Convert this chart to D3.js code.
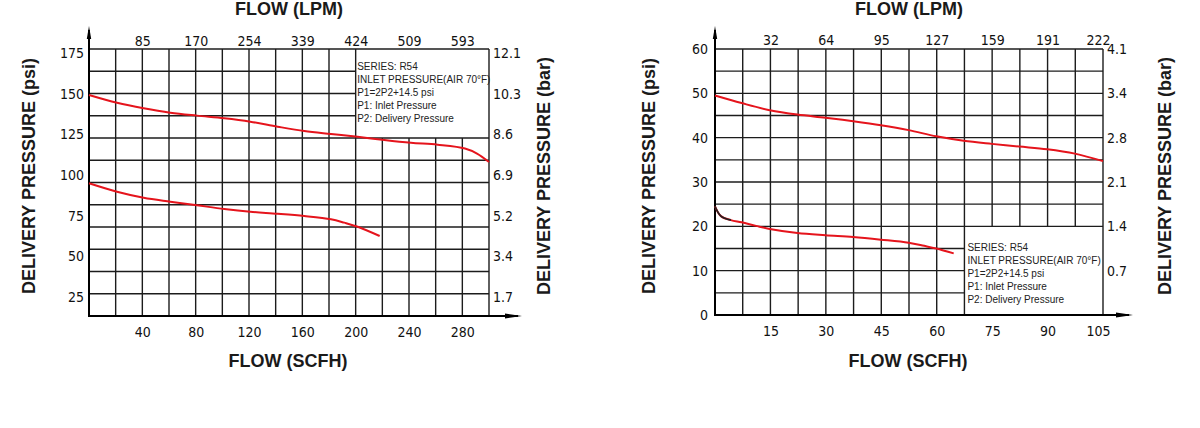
<!DOCTYPE html>
<html>
<head>
<meta charset="utf-8">
<script src="https://cdn.jsdelivr.net/npm/d3@7"></script>
<style>
  html, body { margin: 0; padding: 0; background: #fff; }
  svg { display: block; }
</style>
</head>
<body>
<div id="chart"></div>
<script>
// ---- left chart: flow 0-300 SCFH, delivery pressure 25-175 psi ----
const leftUpperFlow = [0, 21, 41, 61, 81, 101.5, 121, 141.5, 161.5, 181.5, 201.5, 221.5, 241.5, 261.5, 282, 291, 300];
const leftUpperPsi  = [149.2, 144.4, 141, 138.3, 136.5, 134.9, 132.8, 129.7, 127, 125.2, 123.5, 121.5, 119.8, 118.6, 116.3, 113.2, 108];
const leftLowerFlow = [0, 21, 41, 61, 81, 101.5, 121, 141.5, 161.5, 181.5, 191.5, 201.5, 218];
const leftLowerPsi  = [94.9, 89.7, 86, 83.6, 81.4, 79.1, 77.4, 76.2, 74.8, 72.8, 70.7, 68.2, 62.5];
const leftScfhTicks = [40, 80, 120, 160, 200, 240, 280];
const leftLpmLabels = ["85", "170", "254", "339", "424", "509", "593"];
const leftPsiTicks  = [25, 50, 75, 100, 125, 150, 175];
const leftBarLabels = ["1.7", "3.4", "5.2", "6.9", "8.6", "10.3", "12.1"];

// ---- right chart: flow 0-105 SCFH, delivery pressure 0-60 psi ----
const rightUpperFlow = [0, 7.2, 14.8, 22.3, 29.9, 37.4, 44.9, 52.4, 59.9, 67.3, 74.9, 82.3, 89.9, 97.4, 105];
const rightUpperPsi  = [49.5, 47.8, 46.2, 45.2, 44.5, 43.7, 42.8, 41.7, 40.3, 39.3, 38.6, 38, 37.4, 36.4, 34.7];
const rightLowerFlow = [0, 1.6, 4.3, 7.2, 11.1, 14.8, 22.3, 29.9, 37.4, 44.9, 52.4, 56.6, 59.9, 64.6];
const rightLowerPsi  = [24.5, 22.3, 21.4, 20.9, 20.1, 19.4, 18.5, 18, 17.6, 17, 16.3, 15.6, 15, 13.9];
const rightScfhTicks = [15, 30, 45, 60, 75, 90, 105];
const rightLpmLabels = ["32", "64", "95", "127", "159", "191", "222"];
const rightPsiTicks  = [0, 10, 20, 30, 40, 50, 60];
const rightBarLabels = ["", "0.7", "1.4", "2.1", "2.8", "3.4", "4.1"];

const noteLines = ["SERIES: R54", "INLET PRESSURE(AIR 70°F)", "P1=2P2+14.5 psi", "P1: Inlet Pressure", "P2: Delivery Pressure"];

const width = 1200, height = 428;
const red = "#e5141c";
const tickFont = '"Liberation Sans Narrow", "Arial Narrow", "DejaVu Sans Condensed", sans-serif';
const titleFont = '"Liberation Sans", Arial, sans-serif';

const svg = d3.select("#chart").append("svg")
  .attr("width", width)
  .attr("height", height)
  .attr("viewBox", [0, 0, width, height]);

svg.append("rect").attr("width", width).attr("height", height).attr("fill", "#fff");

function drawChart(c) {
  const x = d3.scaleLinear().domain([0, c.xMax]).range([c.left, c.right]);
  const y = d3.scaleLinear().domain(c.psiDomain).range(c.psiRange);   // where the psi labels sit
  const row = d3.scaleLinear().domain([0, c.rows]).range([c.bottom, c.top]); // grid rows
  const g = svg.append("g");

  // grid lines, cut out where the note box sits
  const segs = [];
  d3.range(1, c.cols + 1).forEach(i => {
    const xv = i * c.xMax / c.cols;
    const inBox = xv > c.boxX + 1e-6 && i < c.cols;
    if (!inBox) { segs.push([x(xv), row(0), x(xv), row(c.rows)]); return; }
    if (c.boxRows[0] > 0) segs.push([x(xv), row(0), x(xv), row(c.boxRows[0])]);
    if (c.boxRows[1] < c.rows) segs.push([x(xv), row(c.boxRows[1]), x(xv), row(c.rows)]);
  });
  d3.range(1, c.rows + 1).forEach(r => {
    const inBox = r > c.boxRows[0] && r < c.boxRows[1];
    segs.push([x(0), row(r), inBox ? x(c.boxX) : x(c.xMax), row(r)]);
  });
  g.append("g")
    .attr("stroke", "#1c1c1c")
    .attr("stroke-width", 1.4)
    .selectAll("line")
    .data(segs)
    .join("line")
      .attr("x1", d => d[0]).attr("y1", d => d[1])
      .attr("x2", d => d[2]).attr("y2", d => d[3]);

  // axes with arrows
  const x0 = x(0), yb = row(0);
  const yTip = row(c.rows) - 23, xTip = x(c.xMax) + c.arrowLen;
  g.append("line").attr("x1", x0).attr("x2", x0).attr("y1", yb + 1).attr("y2", yTip + 4)
    .attr("stroke", "#000").attr("stroke-width", 2);
  g.append("line").attr("x1", x0 - 1).attr("x2", xTip - 4).attr("y1", yb).attr("y2", yb)
    .attr("stroke", "#000").attr("stroke-width", 2);
  g.append("path").attr("d", `M${x0},${yTip}L${x0 - 2.2},${yTip + 13}L${x0 + 2.2},${yTip + 13}Z`).attr("fill", "#000");
  g.append("path").attr("d", `M${xTip},${yb}L${xTip - 17},${yb - 2.4}L${xTip - 17},${yb + 2.4}Z`).attr("fill", "#000");

  // tick labels
  const styleAxis = sel => {
    sel.select(".domain").remove();
    sel.attr("font-family", tickFont).attr("font-size", 14);
    sel.selectAll("text").attr("fill", "#111");
  };
  g.append("g").attr("transform", `translate(0,${yb})`)
    .call(d3.axisBottom(x).tickValues(c.xTicks).tickSize(0).tickPadding(11).tickFormat(d3.format("d")))
    .call(styleAxis)
    .call(s => s.selectAll("text").filter(d => d === c.xMax).attr("dx", c.lastShift));
  g.append("g").attr("transform", `translate(0,${row(c.rows)})`)
    .call(d3.axisTop(x).tickValues(c.xTicks).tickSize(0).tickPadding(c.topPad).tickFormat((d, i) => c.lpmLabels[i]))
    .call(styleAxis)
    .call(s => s.selectAll("text").filter(d => d === c.xMax).attr("dx", c.lastShift));
  g.append("g").attr("transform", `translate(${x0},0)`)
    .call(d3.axisLeft(y).tickValues(c.psiTicks).tickSize(0).tickPadding(c.leftPad).tickFormat(d3.format("d")))
    .call(styleAxis);
  g.append("g").attr("transform", `translate(${x(c.xMax)},0)`)
    .call(d3.axisRight(y).tickValues(c.psiTicks).tickSize(0).tickPadding(4).tickFormat((d, i) => c.barLabels[i]))
    .call(styleAxis);

  // note box text
  g.append("g")
    .attr("font-family", titleFont)
    .attr("font-size", 10)
    .attr("fill", "#222")
    .selectAll("text")
    .data(noteLines)
    .join("text")
      .attr("x", x(c.boxX) + c.noteDx)
      .attr("y", (d, i) => c.noteY + i * 13.1)
      .text(d => d);

  // curves
  const line = d3.line().x(d => x(d[0])).y(d => y(d[1])).curve(d3.curveCatmullRom.alpha(0.5));
  c.curves.forEach(pts => {
    g.append("path").attr("d", line(pts)).attr("fill", "none")
      .attr("stroke", red).attr("stroke-width", 2);
  });
  if (c.blackStart) {
    g.append("path").attr("d", line(c.curves[1].slice(0, 3))).attr("fill", "none")
      .attr("stroke", "#222").attr("stroke-width", 1.6);
  }

  // titles
  const cx = (c.left + c.right) / 2;
  const t = g.append("g").attr("font-family", titleFont).attr("font-weight", "bold")
    .attr("font-size", 18).attr("fill", "#1a1a1a").attr("text-anchor", "middle");
  t.append("text").attr("x", cx).attr("y", 15).text("FLOW (LPM)");
  t.append("text").attr("x", cx - 1).attr("y", 367).text("FLOW (SCFH)");
  t.append("text").attr("transform", `translate(${c.psiTitleX},176) rotate(-90)`)
    .attr("dy", "0.35em").text("DELIVERY PRESSURE (psi)");
  t.append("text").attr("transform", `translate(${c.barTitleX},176) rotate(-90)`)
    .attr("dy", "0.35em").text("DELIVERY PRESSURE (bar)");
}

drawChart({
  left: 89, right: 489, top: 49, bottom: 316,
  xMax: 300, cols: 15, rows: 12,
  psiDomain: [25, 175], psiRange: [297, 53],
  boxX: 200, boxRows: [8, 12], noteDx: 1.5, noteY: 70,
  xTicks: leftScfhTicks, lpmLabels: leftLpmLabels,
  psiTicks: leftPsiTicks, barLabels: leftBarLabels,
  topPad: 3, leftPad: 5, lastShift: 0, arrowLen: 33,
  psiTitleX: 29, barTitleX: 544,
  curves: [d3.zip(leftUpperFlow, leftUpperPsi), d3.zip(leftLowerFlow, leftLowerPsi)],
  blackStart: false
});

drawChart({
  left: 715, right: 1103, top: 49, bottom: 315,
  xMax: 105, cols: 14, rows: 12,
  psiDomain: [0, 60], psiRange: [315, 49],
  boxX: 67.5, boxRows: [0, 4], noteDx: 3, noteY: 251,
  xTicks: rightScfhTicks, lpmLabels: rightLpmLabels,
  psiTicks: rightPsiTicks, barLabels: rightBarLabels,
  topPad: 4, leftPad: 7, lastShift: -5, arrowLen: 30,
  psiTitleX: 649, barTitleX: 1165,
  curves: [d3.zip(rightUpperFlow, rightUpperPsi), d3.zip(rightLowerFlow, rightLowerPsi)],
  blackStart: true
});
</script>
</body>
</html>
